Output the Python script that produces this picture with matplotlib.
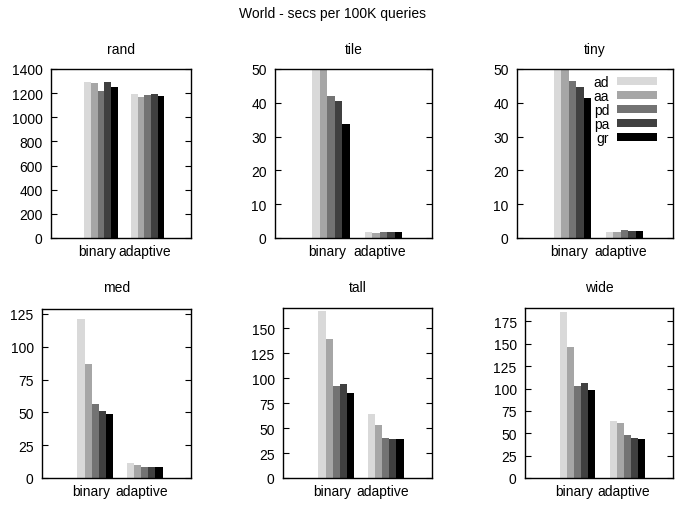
import matplotlib
matplotlib.use("Agg")
import matplotlib.pyplot as plt
import numpy as np

plt.rcParams['font.family'] = ['Liberation Sans', 'DejaVu Sans']

categories = ["binary", "adaptive"]
series = ["ad", "aa", "pd", "pa", "gr"]
colors = ["#d9d9d9", "#a6a6a6", "#737373", "#404040", "#000000"]

panel_names = ["rand", "tile", "tiny", "med", "tall", "wide"]

rand_vals = {"ad": [1295, 1195], "aa": [1285, 1170], "pd": [1220, 1185], "pa": [1295, 1195], "gr": [1255, 1178]}
tile_vals = {"ad": [60, 1.8], "aa": [56, 1.6], "pd": [42.0, 1.8], "pa": [40.5, 1.8], "gr": [33.7, 1.8]}
tiny_vals = {"ad": [62, 1.8], "aa": [58, 1.8], "pd": [46.4, 2.4], "pa": [44.7, 2.1], "gr": [41.4, 2.1]}
med_vals = {"ad": [121.5, 11.4], "aa": [87.0, 9.9], "pd": [56.4, 8.4], "pa": [51.1, 8.4], "gr": [48.8, 8.4]}
tall_vals = {"ad": [167.4, 64.1], "aa": [139.3, 53.1], "pd": [92.2, 40.1], "pa": [94.2, 39.1], "gr": [85.2, 39.1]}
wide_vals = {"ad": [185.5, 64.1], "aa": [146.9, 61.8], "pd": [102.3, 48.3], "pa": [105.7, 45.0], "gr": [98.9, 43.8]}

panel_data = [rand_vals, tile_vals, tiny_vals, med_vals, tall_vals, wide_vals]
ymaxs = [1400, 50, 50, 128.8, 170.2, 190.0]
yticks = [np.arange(0, 1401, 200), np.arange(0, 51, 10), np.arange(0, 51, 10),
          np.arange(0, 126, 25), np.arange(0, 151, 25), np.arange(0, 176, 25)]

W, H = 679, 510
fig = plt.figure(figsize=(W / 100, H / 100), dpi=100)

# axes rectangles in pixels: left, right, top, bottom
rects = [(51, 191, 70, 239), (275, 432, 70, 239), (517, 673, 70, 239),
         (42, 191, 310, 479), (283, 432, 309, 479), (525, 673, 309, 479)]
title_y = [50, 50, 50, 288, 288, 288]

fs = 10
nb = len(series)
bw = 1.0 / (nb + 2)
x = np.arange(len(categories))

for k, (name, data) in enumerate(zip(panel_names, panel_data)):
    l, r, t, b = rects[k]
    ax = fig.add_axes([l / W, 1 - b / H, (r - l) / W, (b - t) / H])
    for j, s in enumerate(series):
        ax.bar(x + 0.07 + (j - (nb - 1) / 2) * bw, data[s], width=bw,
               color=colors[j], linewidth=0, label=s)
    ax.set_xlim(-1, 2)
    ax.set_ylim(0, ymaxs[k])
    ax.set_yticks(yticks[k])
    ax.set_xticks(x)
    ax.set_xticklabels(categories)
    ax.tick_params(axis='x', length=0, labelsize=fs, pad=4)
    ax.tick_params(axis='y', direction='in', length=4.5, width=0.8, left=True,
                   right=True, labelsize=fs, pad=6)
    for sp in ax.spines.values():
        sp.set_linewidth(1.0)
    fig.text((l + r) / 2 / W, 1 - title_y[k] / H, name, ha='center', va='center', fontsize=fs)
    if name == "tiny":
        ax.legend(loc='upper right', frameon=False, fontsize=fs, markerfirst=False,
                  handlelength=2.9, handleheight=0.5, handletextpad=0.55,
                  labelspacing=0.0, borderaxespad=0.0, borderpad=0.0,
                  bbox_to_anchor=((657 - l) / (r - l), (b - 76) / (b - t)))

fig.text(332.5 / W, 1 - 14 / H, "World - secs per 100K queries", ha='center', va='center', fontsize=fs)

fig.savefig("out.png", dpi=100)
